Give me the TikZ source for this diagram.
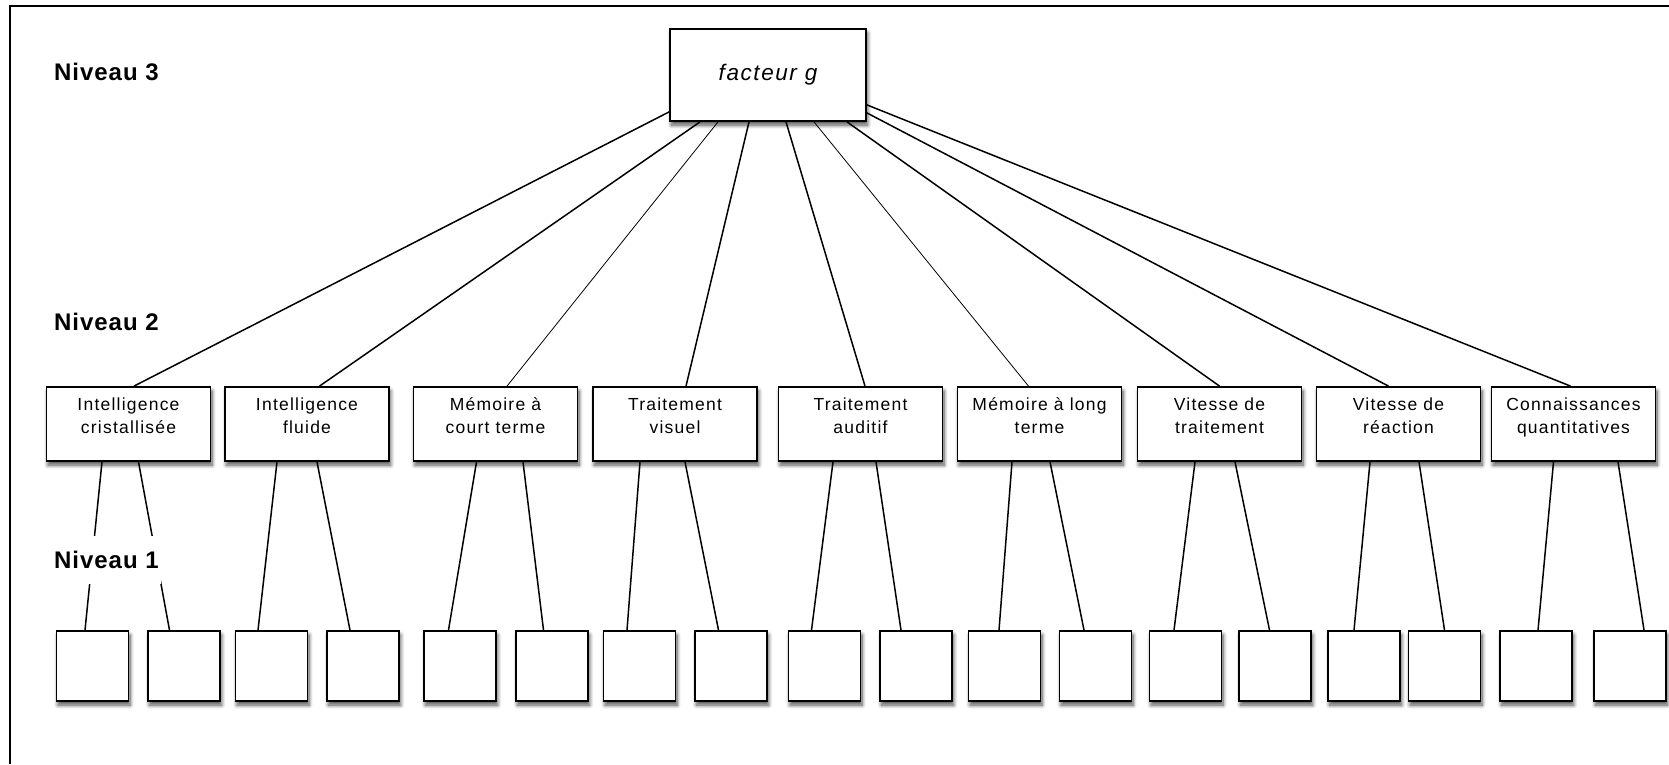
\documentclass[tikz,border=0pt]{standalone}
\usepackage{fontspec}
\setmainfont{Liberation Sans}
\newfontfamily\boxfont{Liberation Sans}[LetterSpace=7]
\newfontfamily\tierfont{Liberation Sans}[LetterSpace=4]
\usetikzlibrary{positioning,shadows,shadows.blur}
\tikzset{
  basic/.style    = {draw, line width=1.8pt, fill=white, rectangle, inner sep=4pt,
                     blur shadow={shadow xshift=1.5pt, shadow yshift=-4pt, shadow blur radius=4pt,
                                  shadow blur steps=8, shadow opacity=70}},
  gfactor/.style  = {basic, minimum width=196pt, minimum height=92pt, font=\fontsize{22.5}{26}\boxfont\itshape},
  broad/.style    = {basic, minimum width=164pt, minimum height=74pt, align=center,
                     font=\fontsize{17.5}{22.7}\boxfont, text height=42pt, text depth=24pt},
  narrow/.style   = {basic, minimum width=72pt, minimum height=70pt},
  tier/.style     = {font=\fontsize{24}{28}\tierfont\bfseries, anchor=west, fill=white, inner xsep=2pt, inner ysep=15pt},
  link/.style     = {line width=1.5pt},
  thinlink/.style = {line width=0.8pt}
}

\begin{document}
\begin{tikzpicture}[x=1pt, y=-1pt]
\path[use as bounding box] (0,0) rectangle (1669,764);
\draw[line width=2pt] (10,764) -- (10,6) -- (1669,6);

% level 3, the general factor
\node[gfactor] (fg) at (768,75) {facteur g};

% level 2, broad abilities
\node[broad] (a1) at (128.5,424) {Intelligence\\cristallisée};
\node[broad] (a2) at (307,424) {Intelligence\\fluide};
\node[broad] (a3) at (495.5,424) {Mémoire à\\court terme};
\node[broad] (a4) at (675,424) {Traitement\\visuel};
\node[broad] (a5) at (860.5,424) {Traitement\\auditif};
\node[broad] (a6) at (1039.5,424) {Mémoire à long\\terme};
\node[broad] (a7) at (1219.5,424) {Vitesse de\\traitement};
\node[broad] (a8) at (1398.5,424) {Vitesse de\\réaction};
\node[broad] (a9) at (1573.5,424) {Connaissances\\quantitatives};

% level 1, narrow abilities (empty boxes)
\begin{scope}[every node/.style={narrow}]
\node (a11) at (92.5,666) {};
\node (a12) at (184,666) {};
\node (a21) at (271.5,666) {};
\node (a22) at (363,666) {};
\node (a31) at (460,666) {};
\node (a32) at (552,666) {};
\node (a41) at (639.5,666) {};
\node (a42) at (731,666) {};
\node (a51) at (824.5,666) {};
\node (a52) at (916,666) {};
\node (a61) at (1004.5,666) {};
\node (a62) at (1095.5,666) {};
\node (a71) at (1185.5,666) {};
\node (a72) at (1275,666) {};
\node (a81) at (1364,666) {};
\node (a82) at (1444.5,666) {};
\node (a91) at (1536,666) {};
\node (a92) at (1630,666) {};
\end{scope}

% g to the broad abilities
\draw[link] ([yshift=10pt]fg.south west) -- ([xshift=5.5pt]a1.north);
\draw[link] ([xshift=-68pt]fg.south) -- ([xshift=12.5pt]a2.north);
\draw[thinlink] ([xshift=-50pt]fg.south) -- ([xshift=11.5pt]a3.north);
\draw[link] ([xshift=-19pt]fg.south) -- ([xshift=11pt]a4.north);
\draw[link] ([xshift=18pt]fg.south) -- ([xshift=4.5pt]a5.north);
\draw[thinlink] ([xshift=46pt]fg.south) -- ([xshift=-11pt]a6.north);
\draw[link] ([xshift=79pt]fg.south) -- (a7.north);
\draw[link] ([yshift=9pt]fg.south east) -- ([xshift=-10pt]a8.north);
\draw[link] ([yshift=17pt]fg.south east) -- ([xshift=-3pt]a9.north);

% broad to narrow abilities
\draw[link] ([xshift=-26.5pt]a1.south) -- ([xshift=-7.5pt]a11.north);
\draw[link] ([xshift=10pt]a1.south) -- ([xshift=-14.5pt]a12.north);
\draw[link] ([xshift=-30pt]a2.south) -- ([xshift=-13.5pt]a21.north);
\draw[link] ([xshift=10pt]a2.south) -- ([xshift=-13pt]a22.north);
\draw[link] ([xshift=-19pt]a3.south) -- ([xshift=-11.5pt]a31.north);
\draw[link] ([xshift=27.5pt]a3.south) -- ([xshift=-8.5pt]a32.north);
\draw[link] ([xshift=-35pt]a4.south) -- ([xshift=-12.5pt]a41.north);
\draw[link] ([xshift=10pt]a4.south) -- ([xshift=-12.5pt]a42.north);
\draw[link] ([xshift=-27.5pt]a5.south) -- ([xshift=-13pt]a51.north);
\draw[link] ([xshift=15.5pt]a5.south) -- ([xshift=-15pt]a52.north);
\draw[link] ([xshift=-27.5pt]a6.south) -- ([xshift=-5.5pt]a61.north);
\draw[link] ([xshift=10.5pt]a6.south) -- ([xshift=-11.5pt]a62.north);
\draw[link] ([xshift=-24.5pt]a7.south) -- ([xshift=-11.5pt]a71.north);
\draw[link] ([xshift=15.5pt]a7.south) -- ([xshift=-5.5pt]a72.north);
\draw[link] ([xshift=-28.5pt]a8.south) -- ([xshift=-10pt]a81.north);
\draw[link] ([xshift=20.5pt]a8.south) -- (a82.north);
\draw[link] ([xshift=-20pt]a9.south) -- ([xshift=2pt]a91.north);
\draw[link] ([xshift=44.5pt]a9.south) -- ([xshift=14pt]a92.north);

% level labels on the left
\node[tier] (n3) at (52,71.5) {Niveau 3};
\node[tier] (n2) at (52,322) {Niveau 2};
\node[tier] (n1) at (52,560) {Niveau 1};
\end{tikzpicture}
\end{document}
